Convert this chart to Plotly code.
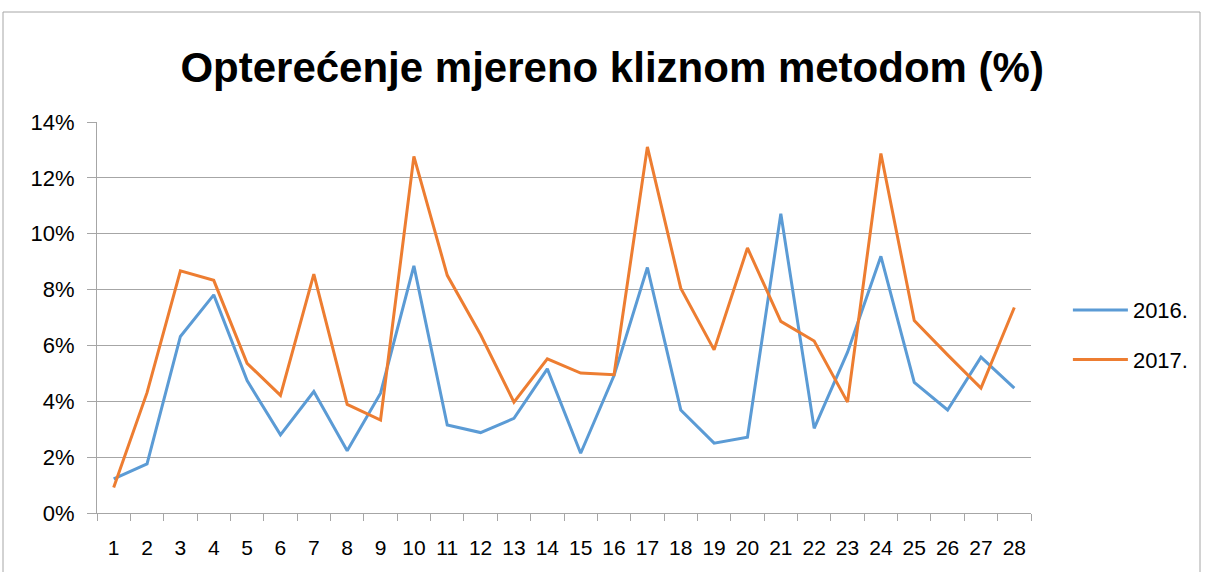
import plotly.graph_objects as go

days = [str(i) for i in range(1, 29)]
y2016 = [1.22, 1.76, 6.32, 7.81, 4.74, 2.80, 4.35, 2.23, 4.29, 8.85,
         3.15, 2.88, 3.39, 5.16, 2.14, 4.92, 8.79, 3.69, 2.50, 2.71,
         10.72, 3.03, 5.76, 9.19, 4.68, 3.69, 5.58, 4.47]
y2017 = [0.91, 4.31, 8.67, 8.33, 5.36, 4.21, 8.55, 3.89, 3.33, 12.77,
         8.51, 6.38, 3.97, 5.52, 5.01, 4.95, 13.11, 8.05, 5.84, 9.49,
         6.86, 6.16, 3.97, 12.87, 6.89, 5.66, 4.47, 7.36]
series_names = ["2016.", "2017."]
y_ticks = [0, 2, 4, 6, 8, 10, 12, 14]
y_labels = [f"{v}%" for v in y_ticks]

fig = go.Figure()
fig.add_trace(go.Scatter(x=days, y=y2016, mode="lines", name=series_names[0],
                         legendgroup="a",
                         line=dict(color="#5B9BD5", width=3)))
fig.add_trace(go.Scatter(x=days, y=y2017, mode="lines", name=series_names[1],
                         legendgroup="b",
                         line=dict(color="#ED7D31", width=3)))

font_family = "Liberation Sans, Arial, sans-serif"
fig.update_layout(
    width=1205, height=572,
    margin=dict(l=97, r=174, t=122, b=59, autoexpand=False),
    paper_bgcolor="white", plot_bgcolor="white",
    title=dict(text="<b>Opterećenje mjereno kliznom metodom (%)</b>",
               x=0.508, xanchor="center", y=1 - 67 / 572, yanchor="middle",
               yref="container",
               font=dict(family=font_family, size=42, color="black")),
    font=dict(family=font_family, size=22, color="black"),
    legend=dict(x=1.0395, y=0.455, xanchor="left", yanchor="middle",
                font=dict(size=22), itemwidth=55, tracegroupgap=18,
                bgcolor="rgba(0,0,0,0)"),
    showlegend=True,
    xaxis=dict(type="category", range=[-0.5, 27.5], showgrid=False,
               showline=True, linecolor="#a6a6a6", linewidth=1,
               ticks="outside", tickson="boundaries", ticklen=7,
               tickcolor="#a6a6a6", tickfont=dict(size=21), tickangle=0,
               ticklabelstandoff=16, automargin=False),
    yaxis=dict(range=[0, 14], tickvals=y_ticks, ticktext=y_labels,
               showgrid=True, gridcolor="#a6a6a6", gridwidth=1,
               showline=True, linecolor="#a6a6a6", linewidth=1,
               zeroline=False, ticks="outside", ticklen=9,
               tickcolor="#a6a6a6", tickfont=dict(size=22),
               ticklabelstandoff=8, automargin=False),
)

# outer chart frame
fig.add_shape(type="rect", xref="paper", yref="paper",
              x0=(3 - 97) / 934, x1=(1200 - 97) / 934,
              y0=-0.3, y1=(513 - 12) / 391,
              line=dict(color="#a6a6a6", width=1), fillcolor="rgba(0,0,0,0)",
              layer="below")

fig.write_html("out.html", config={"displayModeBar": False},
               post_script="document.body.style.margin='0';")
